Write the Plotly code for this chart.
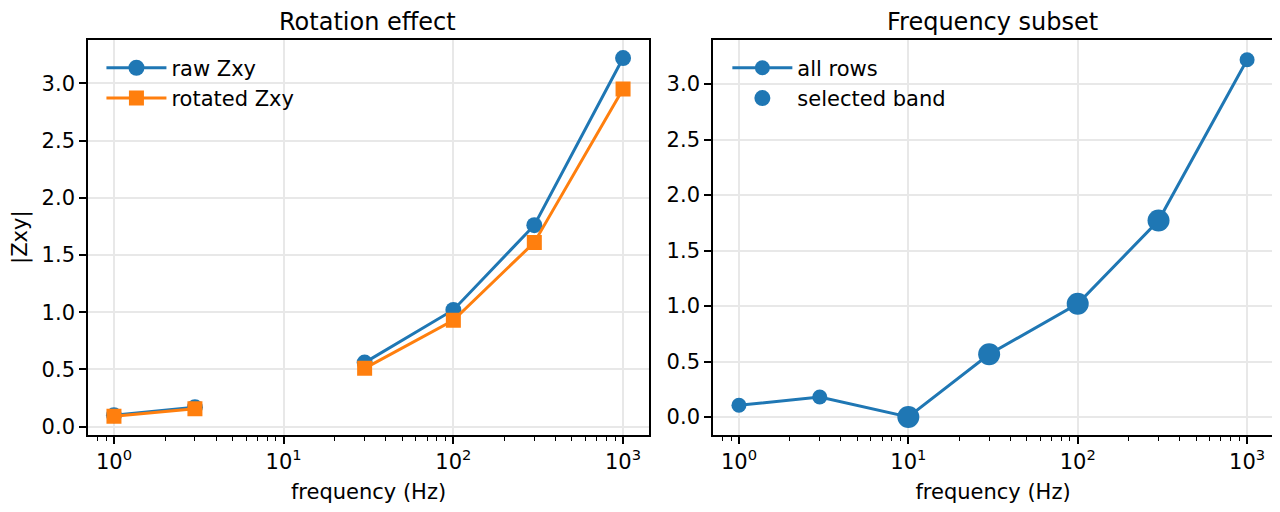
import plotly.graph_objects as go
from plotly.subplots import make_subplots

# data
freq = [1, 3, 10, 30, 100, 300, 1000]
raw_zxy = [0.10, 0.17, None, 0.56, 1.02, 1.76, 3.22]
rot_zxy = [0.092, 0.157, None, 0.51, 0.93, 1.61, 2.95]
all_rows = [0.105, 0.18, 0.0, 0.565, 1.02, 1.77, 3.22]
band_freq = [10, 30, 100, 300]
band_vals = [0.0, 0.565, 1.02, 1.77]

xtick_vals = [1, 10, 100, 1000]
xtick_text = ["10<sup>0</sup>", "10<sup>1</sup>", "10<sup>2</sup>", "10<sup>3</sup>"]
minor_vals = [m * 10 ** d for d in range(-1, 4) for m in range(2, 10)]
minor_vals = [v for v in minor_vals if 0.7 < v < 1430]

BLUE = "#1f77b4"
ORANGE = "#ff7f0e"
FONT = "DejaVu Sans"

fig = make_subplots(rows=1, cols=2)

fig.add_trace(go.Scatter(x=freq, y=raw_zxy, name="raw Zxy", mode="lines+markers",
                         line=dict(color=BLUE, width=3), marker=dict(symbol="circle", size=16, color=BLUE),
                         connectgaps=False, legend="legend"), row=1, col=1)
fig.add_trace(go.Scatter(x=freq, y=rot_zxy, name="rotated Zxy", mode="lines+markers",
                         line=dict(color=ORANGE, width=3), marker=dict(symbol="square", size=15, color=ORANGE),
                         connectgaps=False, legend="legend"), row=1, col=1)

fig.add_trace(go.Scatter(x=freq, y=all_rows, name="all rows", mode="lines+markers",
                         line=dict(color=BLUE, width=3), marker=dict(symbol="circle", size=15, color=BLUE),
                         legend="legend2"), row=1, col=2)
fig.add_trace(go.Scatter(x=band_freq, y=band_vals, name="selected band", mode="markers",
                         marker=dict(symbol="circle", size=22, color=BLUE),
                         legend="legend2"), row=1, col=2)

axis_common = dict(showline=True, linecolor="black", linewidth=1.6, mirror=True,
                   ticks="outside", ticklen=7, tickwidth=1.6, tickcolor="black",
                   showgrid=True, gridcolor="#e8e8e8", gridwidth=1.5, zeroline=False,
                   tickfont=dict(size=21, color="black", family=FONT))

fig.update_xaxes(type="log", range=[-0.153, 3.153], tickvals=xtick_vals, ticktext=xtick_text,
                 minor=dict(tickvals=minor_vals, ticks="outside", ticklen=4, tickwidth=1.2,
                            tickcolor="black", showgrid=False),
                 title=dict(text="frequency (Hz)", font=dict(size=21, family=FONT, color="black"), standoff=12),
                 **axis_common)
fig.update_yaxes(dtick=0.5, tickformat=".1f", **axis_common)
fig.update_yaxes(range=[-0.07, 3.38], row=1, col=1,
                 title=dict(text="|Zxy|", font=dict(size=21, family=FONT, color="black"), standoff=10))
fig.update_yaxes(range=[-0.16, 3.40], row=1, col=2)

# page body adds ~8px offset, so domains are shifted to land where the reference has them
fig.update_layout(
    width=1280, height=512,
    margin=dict(l=0, r=0, t=0, b=0),
    plot_bgcolor="white", paper_bgcolor="white",
    font=dict(family=FONT, color="black"),
    xaxis=dict(domain=[0.0625, 0.5008]),
    xaxis2=dict(domain=[0.5508, 0.9883]),
    yaxis=dict(domain=[0.16, 0.9375]),
    yaxis2=dict(domain=[0.16, 0.9375]),
    legend=dict(x=0.073, y=0.922, xanchor="left", yanchor="top", bgcolor="rgba(0,0,0,0)",
                font=dict(size=21, family=FONT), itemwidth=60, tracegroupgap=0),
    legend2=dict(x=0.562, y=0.922, xanchor="left", yanchor="top", bgcolor="rgba(0,0,0,0)",
                 font=dict(size=21, family=FONT), itemwidth=60, tracegroupgap=0),
    annotations=[
        dict(text="Rotation effect", x=0.281, y=0.972, xref="paper", yref="paper",
             xanchor="center", yanchor="middle", showarrow=False, font=dict(size=24, family=FONT)),
        dict(text="Frequency subset", x=0.7695, y=0.972, xref="paper", yref="paper",
             xanchor="center", yanchor="middle", showarrow=False, font=dict(size=24, family=FONT)),
    ],
)

fig.write_html("out.html")
